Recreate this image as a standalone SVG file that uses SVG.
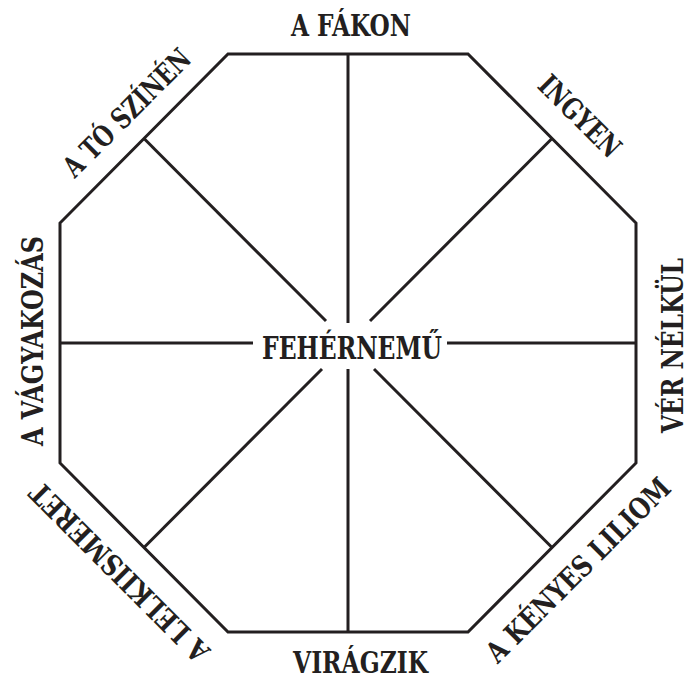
<svg xmlns="http://www.w3.org/2000/svg" width="687" height="679" viewBox="0 0 687 679">
<style>
.ln{fill:none;stroke:#231f20;stroke-width:3;stroke-linejoin:miter;stroke-linecap:butt}
.t{font-family:"DejaVu Serif Condensed","DejaVu Serif",serif;font-weight:bold;font-size:29px;fill:#231f20;text-anchor:middle}
.c{font-size:31px}
</style>
<rect width="687" height="679" fill="#fff"/>
<g id="octagon">
<polygon class="ln" points="228,54 468,54 636,223 636,463 468,632 228,632 60,463 60,223"/>
</g>
<g id="connectors">
<line class="ln" x1="348" y1="54" x2="348" y2="323"/>
<line class="ln" x1="348" y1="369" x2="348" y2="632"/>
<line class="ln" x1="60" y1="343" x2="253" y2="343"/>
<line class="ln" x1="447" y1="343" x2="636" y2="343"/>
<line class="ln" x1="144" y1="138.5" x2="326" y2="321"/>
<line class="ln" x1="552" y1="138.5" x2="370" y2="321"/>
<line class="ln" x1="144" y1="547.5" x2="322" y2="369"/>
<line class="ln" x1="552" y1="547.5" x2="374" y2="369"/>
</g>
<g id="center"><text class="t c" x="352" y="359" textLength="180" lengthAdjust="spacingAndGlyphs">FEHÉRNEMŰ</text></g>
<g id="top"><text class="t" x="351" y="36" textLength="120" lengthAdjust="spacingAndGlyphs">A FÁKON</text></g>
<g id="bottom"><text class="t" x="360.5" y="673" textLength="135" lengthAdjust="spacingAndGlyphs">VIRÁGZIK</text></g>
<g id="left"><text class="t" transform="translate(43,341) rotate(-90)" textLength="210" lengthAdjust="spacingAndGlyphs">A VÁGYAKOZÁS</text></g>
<g id="right"><text class="t" transform="translate(683,345.5) rotate(-90)" textLength="175" lengthAdjust="spacingAndGlyphs">VÉR NÉLKÜL</text></g>
<g id="upper-left"><text class="t" transform="translate(133.8,119.9) rotate(-45)" textLength="167" lengthAdjust="spacingAndGlyphs">A TÓ SZÍNÉN</text></g>
<g id="upper-right"><text class="t" transform="translate(572.6,123.3) rotate(45)" textLength="103" lengthAdjust="spacingAndGlyphs">INGYEN</text></g>
<g id="lower-right"><text class="t" transform="translate(585.2,577.2) rotate(-45)" textLength="247" lengthAdjust="spacingAndGlyphs">A KÉNYES LILIOM</text></g>
<g id="lower-left"><text class="t" transform="translate(126.6,565.1) rotate(-135)" textLength="240" lengthAdjust="spacingAndGlyphs">A LELKIISMERET</text></g>
</svg>
